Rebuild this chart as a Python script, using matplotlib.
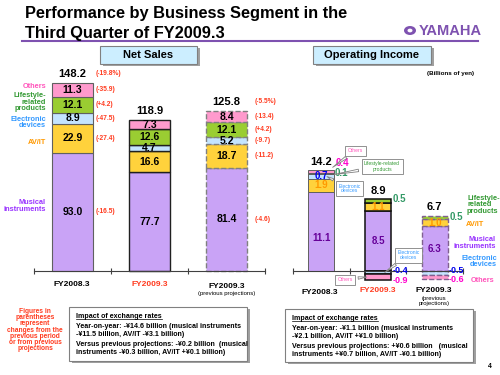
import matplotlib
matplotlib.use('Agg')
import matplotlib.pyplot as plt
from matplotlib.patches import Rectangle, Circle
from matplotlib.lines import Line2D

plt.rcParams['font.family'] = ['Liberation Sans', 'DejaVu Sans']
plt.rcParams['font.weight'] = 'bold'

W, H = 500, 375

# ── data (billions of yen) ────────────────────────────────────────────
periods = ['FY2008.3', 'FY2009.3', 'FY2009.3']
segments = ['Musical\ninstruments', 'AV/IT', 'Electronic\ndevices',
            'Lifestyle-\nrelated\nproducts', 'Others']

sales_mi = [93.0, 77.7, 81.4]
sales_av = [22.9, 16.6, 18.7]
sales_ed = [8.9, 4.7, 5.2]
sales_ls = [12.1, 12.6, 12.1]
sales_ot = [11.3, 7.3, 8.4]
sales_total = [148.2, 118.9, 125.8]

yoy_total = '(-19.8%)'
yoy_chg = ['(-16.5)', '(-27.4)', '(-47.5)', '(+4.2)', '(-35.9)']
proj_total = '(-5.5%)'
proj_chg = ['(-4.6)', '(-11.2)', '(-9.7)', '(+4.2)', '(-13.4)']

oi_mi = [11.1, 8.5, 6.3]
oi_av = [1.9, 1.1, 1.0]
oi_ed = [0.7, -0.4, -0.5]
oi_ls = [0.1, 0.5, 0.5]
oi_ot = [0.4, -0.9, -0.6]
oi_total = [14.2, 8.9, 6.7]

# ── colours ───────────────────────────────────────────────────────────
SEG_COL = ['#C9A3F6', '#FFD23C', '#C4E4FF', '#9ACD32', '#FF9ACD']
TXT_COL = ['#9933FF', '#FF9900', '#3399FF', '#339933', '#FF55BB']
RED = '#FF3B1F'
PURPLE = '#7E52B0'
DARKP = '#660099'
GRAY = '#808080'

fig = plt.figure(figsize=(5, 3.75), dpi=100)


def ftext(x, y, s, **kw):
    return fig.text(x / W, 1 - y / H, s, **kw)


def add_ax(x0, x1, y0, y1):
    ax = fig.add_axes([x0 / W, 1 - y1 / H, (x1 - x0) / W, (y1 - y0) / H])
    ax.patch.set_alpha(0)
    for s in ['top', 'right', 'left']:
        ax.spines[s].set_visible(False)
    ax.spines['bottom'].set_position(('data', 0))
    ax.spines['bottom'].set_color('#404040')
    ax.spines['bottom'].set_linewidth(0.8)
    ax.set_xlim(0, 3)
    ax.set_xticks([0, 1, 2, 3])
    ax.set_xticklabels([])
    ax.set_yticks([])
    ax.tick_params(axis='x', direction='inout', length=5, width=0.8, color='#404040')
    return ax


def box(x0, y0, x1, y1, fc='white', shadow=True):
    if shadow:
        fig.patches.append(Rectangle((x0 / W + 0.005, 1 - y1 / H - 0.006),
                                     (x1 - x0) / W, (y1 - y0) / H,
                                     transform=fig.transFigure, fc='#A0A0A0', ec='none'))
    fig.patches.append(Rectangle((x0 / W, 1 - y1 / H), (x1 - x0) / W, (y1 - y0) / H,
                                 transform=fig.transFigure, fc=fc, ec=GRAY, lw=0.8))


# ── title ─────────────────────────────────────────────────────────────
ftext(25, 18, 'Performance by Business Segment in the', fontsize=11.8, va='baseline')
ftext(25, 38, 'Third Quarter of FY2009.3', fontsize=11.8, va='baseline')
fig.lines.append(Line2D([22 / W, 478 / W], [1 - 41 / H] * 2, transform=fig.transFigure,
                        color=PURPLE, lw=1.5))
fig.patches.append(Circle((410 / W, 1 - 30.5 / H), 6 / W, transform=fig.transFigure,
                          fc=PURPLE, ec='none'))
fig.patches.append(Circle((410 / W, 1 - 30.5 / H), 2.5 / W, transform=fig.transFigure,
                          fc='white', ec='none'))
ftext(450, 31, 'YAMAHA', fontsize=10.5, color=PURPLE, ha='center', va='center',
      family=['Liberation Sans Narrow', 'Liberation Sans'])

# ── headers ───────────────────────────────────────────────────────────
box(100, 46, 197, 64, fc='#CCEEFF')
ftext(148.5, 55, 'Net Sales', fontsize=8, ha='center', va='center')
box(313, 46, 431, 64, fc='#CCEEFF')
ftext(372, 55, 'Operating Income', fontsize=8, ha='center', va='center')
ftext(474, 73, '(Billions of yen)', fontsize=4.5, ha='right', va='center')

# ── net sales ─────────────────────────────────────────────────────────
ax1 = add_ax(34, 265, 75, 300)
ax1.set_ylim(-(300 - 271) / 1.27, (271 - 75) / 1.27)

sales = [sales_mi, sales_av, sales_ed, sales_ls, sales_ot]
edge_styles = [('#606060', 0.8, '-'), ('#202020', 1.0, '-'), ('#808080', 1.0, '--')]
mids = [[], [], []]
for i in range(3):
    ec, lw, ls = edge_styles[i]
    bottom = 0.0
    for k in range(5):
        v = sales[k][i]
        ax1.bar(i + 0.5, v, 0.54, bottom=bottom, color=SEG_COL[k], edgecolor=ec,
                linewidth=lw, linestyle=ls)
        mids[i].append(bottom + v / 2)
        ax1.text(i + 0.5, bottom + v / 2, f'{v:.1f}', ha='center', va='center',
                 fontsize=7.5, color='black')
        bottom += v
    ax1.text(i + 0.5, sales_total[i] + 3, f'{sales_total[i]:.1f}', ha='center',
             va='bottom', fontsize=8)

for k in range(5):
    ax1.text(0.805, mids[0][k], yoy_chg[k], fontsize=4.8, color=RED, va='center')
    ax1.text(2.87, mids[2][k], proj_chg[k], fontsize=4.8, color=RED, va='center')
ax1.text(0.805, sales_total[0] + 7.5, yoy_total, fontsize=4.8, color=RED, va='center')
ax1.text(2.87, sales_total[2] + 7.5, proj_total, fontsize=4.8, color=RED, va='center')

label_y = [206, 143, 122.5, 102, 87]
for k in range(5):
    ftext(46, label_y[k], segments[k], fontsize=5.3, color=TXT_COL[k], ha='right',
          va='center', linespacing=0.95)

ftext(72, 285, periods[0], fontsize=6, ha='center', va='center')
ftext(150, 285, periods[1], fontsize=6, ha='center', va='center', color=RED)
ftext(227, 286, periods[2], fontsize=6, ha='center', va='center')
ftext(227, 294, '(previous projections)', fontsize=4.3, ha='center', va='center',
      weight='normal')

# ── operating income ──────────────────────────────────────────────────
ax2 = add_ax(293, 463, 75, 300)
ax2.set_ylim(-(300 - 271) / 7.1, (271 - 75) / 7.1)

oi = [oi_mi, oi_av, oi_ed, oi_ls, oi_ot]
oi_edges = [('#606060', 0.7, '-'), ('#101010', 1.1, '-'), ('#806090', 1.0, '--')]
for i in range(3):
    ec, lw, ls = oi_edges[i]
    pos, neg = 0.0, 0.0
    for k in range(5):
        v = oi[k][i]
        if v >= 0:
            ax2.bar(i + 0.5, v, 0.46, bottom=pos, color=SEG_COL[k], edgecolor=ec,
                    linewidth=lw, linestyle=ls)
            pos += v
        else:
            ax2.bar(i + 0.5, v, 0.46, bottom=neg, color=SEG_COL[k], edgecolor=ec,
                    linewidth=lw, linestyle=ls)
            neg += v
    ax2.text(i + 0.5, pos + 0.5, f'{oi_total[i]:.1f}', ha='center', va='bottom', fontsize=8)

fs = 7
fsn = 6.5
# FY2008.3
ax2.text(0.5, oi_mi[0] * 0.42, f'{oi_mi[0]:.1f}', ha='center', va='center', fontsize=fs,
         color=DARKP)
ax2.text(0.5, oi_mi[0] + oi_av[0] / 2, f'{oi_av[0]:.1f}', ha='center', va='center',
         fontsize=fs, color='#FF9900')
ax2.text(0.5, oi_mi[0] + oi_av[0] + oi_ed[0] / 2, f'{oi_ed[0]:.1f}', ha='center', va='center',
         fontsize=fs, color='#0000EE')
ax2.text(0.74, 13.8, f'{oi_ls[0]:.1f}', va='center', fontsize=fs, color='#339966')
ax2.text(0.76, 15.2, f'{oi_ot[0]:.1f}', va='center', fontsize=fs, color='#FF00CC')
# FY2009.3
ax2.text(1.5, oi_mi[1] / 2, f'{oi_mi[1]:.1f}', ha='center', va='center', fontsize=fs, color=DARKP)
ax2.text(1.5, oi_mi[1] + oi_av[1] / 2, f'{oi_av[1]:.1f}', ha='center', va='center',
         fontsize=fs, color='#FF9900')
ax2.text(1.76, oi_mi[1] + oi_av[1] + oi_ls[1], f'{oi_ls[1]:.1f}', va='center', fontsize=fs,
         color='#339966')
ax2.text(1.75, 0.05, f'{oi_ed[1]:.1f}', va='center', fontsize=fsn, color='#0000EE')
ax2.text(1.75, oi_ed[1] + oi_ot[1] - 0.05, f'{oi_ot[1]:.1f}', va='center', fontsize=fsn,
         color='#FF00CC')
# FY2009.3 previous projections
ax2.text(2.5, oi_mi[2] / 2, f'{oi_mi[2]:.1f}', ha='center', va='center', fontsize=fs, color=DARKP)
ax2.text(2.5, oi_mi[2] + oi_av[2] / 2, f'{oi_av[2]:.1f}', ha='center', va='center',
         fontsize=fs, color='#FF9900')
ax2.text(2.76, oi_mi[2] + oi_av[2] + oi_ls[2] / 2, f'{oi_ls[2]:.1f}', va='center', fontsize=fs,
         color='#339966')
ax2.text(2.74, 0.05, f'{oi_ed[2]:.1f}', va='center', fontsize=fsn, color='#0000EE')
ax2.text(2.74, oi_ed[2] + oi_ot[2] - 0.05, f'{oi_ot[2]:.1f}', va='center', fontsize=fsn,
         color='#FF00CC')

# callouts
call_kw = dict(textcoords='figure pixels', ha='center', va='center', fontsize=3.6,
               weight='normal', linespacing=1.0,
               bbox=dict(boxstyle='square,pad=0.5', fc='white', ec=GRAY, lw=0.6),
               arrowprops=dict(arrowstyle='wedge,tail_width=0.5', fc='white', ec=GRAY,
                               lw=0.6, shrinkB=0))
ax2.annotate('Others', xy=(0.7, 14.6), xytext=(355.5, H - 150.5), color='#FF55BB', **call_kw)
ax2.annotate('Lifestyle-related\nproducts', xy=(0.73, 13.6), xytext=(382, H - 166.5),
             color='#339933', **call_kw)
ax2.annotate('Electronic\ndevices', xy=(0.6, 13.3), xytext=(349.5, H - 188.5),
             color='#3399FF', **call_kw)
ax2.annotate('Electronic\ndevices', xy=(1.62, -0.2), xytext=(408.5, H - 255),
             color='#3399FF', **call_kw)
ax2.annotate('Others', xy=(1.3, -0.85), xytext=(345, H - 279.5), color='#FF55BB', **call_kw)

# right-hand legend
ftext(467, 205, segments[3], fontsize=5.3, color=TXT_COL[3], va='center', linespacing=0.95)
ftext(466, 225, segments[1], fontsize=5.3, color=TXT_COL[1], va='center')
ftext(496, 243, segments[0], fontsize=5.3, color=TXT_COL[0], ha='right', va='center',
      linespacing=0.95)
ftext(497, 261.5, segments[2], fontsize=5.3, color=TXT_COL[2], ha='right', va='center',
      linespacing=0.95)
ftext(471, 280, segments[4], fontsize=5.3, color=TXT_COL[4], va='center')

ftext(320, 293, periods[0], fontsize=6, ha='center', va='center')
ftext(378, 290, periods[1], fontsize=6, ha='center', va='center', color=RED)
ftext(434, 290, periods[2], fontsize=6, ha='center', va='center')
ftext(434, 301, '(previous\nprojections)', fontsize=4.3, ha='center', va='center',
      weight='normal', linespacing=0.95)

# ── footnotes ─────────────────────────────────────────────────────────
ftext(35, 330, 'Figures in\nparentheses\nrepresent\nchanges from the\nprevious period\n'
      'or from previous\nprojections', fontsize=4.8, color=RED, ha='center', va='center',
      linespacing=0.85)

renderer = fig.canvas.get_renderer()


def impact_box(x0, y0, x1, y1, lines):
    box(x0, y0, x1, y1)
    t = ftext(x0 + 7, y0 + 11, 'Impact of exchange rates', fontsize=5.1, va='baseline')
    bb = t.get_window_extent(renderer=renderer)
    fig.lines.append(Line2D([bb.x0 / W, bb.x1 / W], [1 - (y0 + 12.3) / H] * 2,
                            transform=fig.transFigure, color='black', lw=0.5))
    for j, s in enumerate(lines):
        ftext(x0 + 7, y0 + 20.5 + 9 * j, s, fontsize=5.1, va='baseline')


impact_box(69, 307, 247, 361, [
    'Year-on-year: -¥14.6 billion (musical instruments',
    '-¥11.5 billion, AV/IT -¥3.1 billion)',
    'Versus previous projections: -¥0.2 billion  (musical',
    'instruments -¥0.3 billion, AV/IT +¥0.1 billion)'])
impact_box(285, 309, 473, 362, [
    'Year-on-year: -¥1.1 billion (musical instruments',
    '-¥2.1 billion, AV/IT +¥1.0 billion)',
    'Versus previous projections: +¥0.6 billion   (musical',
    'instruments +¥0.7 billion, AV/IT -¥0.1 billion)'])

ftext(490, 367, '4', fontsize=5, ha='center', va='center')

fig.savefig('out.png', dpi=100)
